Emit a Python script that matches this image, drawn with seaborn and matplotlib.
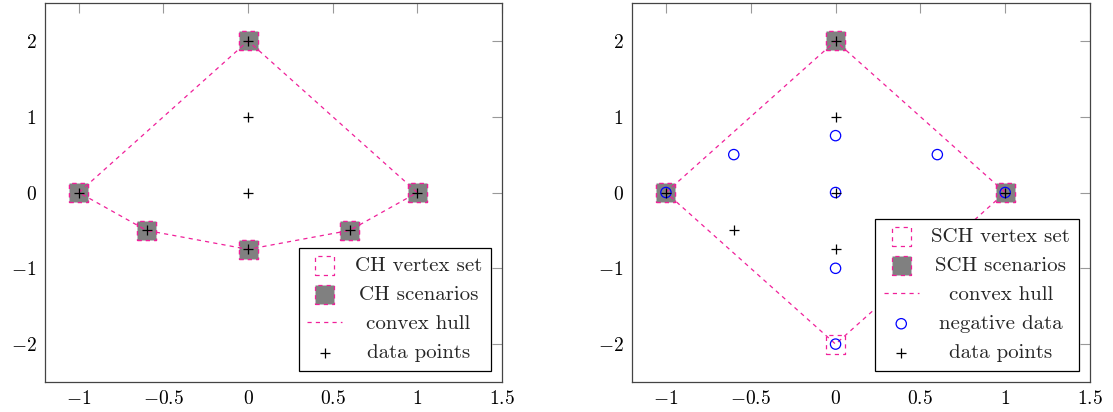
import matplotlib
matplotlib.use("Agg")
import matplotlib.pyplot as plt
import seaborn as sns
import pandas as pd
from matplotlib.transforms import Bbox

# ---------------- data: left panel (CH) ----------------
ch_vertex_x = [-1, -0.6, 0, 0.6, 1, 0]
ch_vertex_y = [0, -0.5, -0.75, -0.5, 0, 2]
ch_scen_x = [-1, -0.6, 0, 0.6, 1, 0]
ch_scen_y = [0, -0.5, -0.75, -0.5, 0, 2]
ch_hull_x = [-1, 0, 1, 0.6, 0, -0.6, -1]
ch_hull_y = [0, 2, 0, -0.5, -0.75, -0.5, 0]
ch_data_x = [-1, -0.6, 0, 0.6, 1, 0, 0, 0]
ch_data_y = [0, -0.5, -0.75, -0.5, 0, 2, 1, 0]

# ---------------- data: right panel (SCH) ----------------
sch_vertex_x = [-1, 0, 1, 0]
sch_vertex_y = [0, 2, 0, -2]
sch_scen_x = [-1, 0, 1]
sch_scen_y = [0, 2, 0]
sch_hull_x = [-1, 0, 1, 0, -1]
sch_hull_y = [0, 2, 0, -2, 0]
neg_x = [-1, -0.6, 0, 0, 0.6, 1, 0, 0]
neg_y = [0, 0.5, 0.75, 0, 0.5, 0, -1, -2]
sch_data_x = [0, 0, -1, 0, 1, -0.6, 0]
sch_data_y = [2, 1, 0, 0, 0, -0.5, -0.75]

xticks = [-1, -0.5, 0, 0.5, 1, 1.5]
xticklabels = ["$-1$", "$-0.5$", "$0$", "$0.5$", "$1$", "$1.5$"]
yticks = [-2, -1, 0, 1, 2]
yticklabels = ["$-2$", "$-1$", "$0$", "$1$", "$2$"]

left_labels = ["CH vertex set", "CH scenarios", "convex hull", "data points"]
right_labels = ["SCH vertex set", "SCH scenarios", "convex hull",
                "negative data", "data points"]

PINK = "#f0209a"
GRAY = "#808080"
BLUE = "#0000ff"
DASH = (0, (3, 3))
FS = 14
LFS = 15

sns.set_theme(style="white")
plt.rcParams["mathtext.fontset"] = "cm"
plt.rcParams["lines.scale_dashes"] = False
plt.rcParams["font.family"] = ["cmr10", "DejaVu Serif"]
plt.rcParams["axes.unicode_minus"] = False

fig = plt.figure(figsize=(11.13, 4.12), dpi=100)
W, H = 1113, 412
ax1 = fig.add_axes([45 / W, (H - 382) / H, (502 - 45) / W, (382 - 3) / H])
ax2 = fig.add_axes([632 / W, (H - 382) / H, (1090 - 632) / W, (382 - 3) / H])

SQ = 190


def style_axes(ax):
    ax.set_xlim(-1.2, 1.5)
    ax.set_ylim(-2.5, 2.5)
    ax.set_xticks(xticks)
    ax.set_xticklabels(xticklabels)
    ax.set_yticks(yticks)
    ax.set_yticklabels(yticklabels)
    ax.set_xlabel("")
    ax.set_ylabel("")
    ax.tick_params(direction="in", length=7, width=0.8, color="#999999",
                   top=True, right=True, labelsize=FS, pad=6,
                   labelcolor="black")
    for s in ax.spines.values():
        s.set_color("#444444")
        s.set_linewidth(0.9)
    ax.grid(False)


def center_legend_text(leg):
    tas = []
    for col in leg._legend_handle_box.get_children():
        for item in col.get_children():
            ch = item.get_children()
            tas.append(ch[1])
    for ta in tas:
        ta._text.set_ha("center")
        ta._orig_get_bbox = ta.get_bbox

    def make(ta):
        def gb(renderer):
            bb = ta._orig_get_bbox(renderer)
            Wd = max(o._orig_get_bbox(renderer).width for o in tas)
            return Bbox.from_bounds(-Wd / 2, bb.y0, Wd, bb.height)
        return gb

    for ta in tas:
        ta.get_bbox = make(ta)


def make_legend(ax, labels):
    h, l = ax.get_legend_handles_labels()
    leg = ax.legend(h, labels, loc="lower right", bbox_to_anchor=(1, 0),
                    borderaxespad=0.55, fancybox=False, edgecolor="black",
                    framealpha=1, handlelength=1.7, handletextpad=0.6,
                    labelspacing=0.5, borderpad=0.4, scatterpoints=1,
                    prop={"family": "cmr10", "size": LFS})
    leg.get_frame().set_linewidth(0.9)
    center_legend_text(leg)


# ---------------- left panel ----------------
sns.scatterplot(x=ch_vertex_x, y=ch_vertex_y, ax=ax1, marker="s", s=SQ,
                facecolor="none", edgecolor=PINK, linewidth=0.9,
                linestyle=DASH, label=left_labels[0], zorder=2)
sns.scatterplot(x=ch_scen_x, y=ch_scen_y, ax=ax1, marker="s", s=SQ,
                facecolor=GRAY, edgecolor=PINK, linewidth=0.9,
                linestyle=DASH, label=left_labels[1], zorder=3)
sns.lineplot(x=ch_hull_x, y=ch_hull_y, ax=ax1, sort=False, estimator=None,
             color=PINK, linewidth=0.9, linestyle=DASH,
             label=left_labels[2], zorder=4)
sns.scatterplot(x=ch_data_x, y=ch_data_y, ax=ax1, marker="+", s=60,
                color="black", linewidth=0.9, label=left_labels[3], zorder=5)
style_axes(ax1)
make_legend(ax1, left_labels)

# ---------------- right panel ----------------
sns.scatterplot(x=sch_vertex_x, y=sch_vertex_y, ax=ax2, marker="s", s=SQ,
                facecolor="none", edgecolor=PINK, linewidth=0.9,
                linestyle=DASH, label=right_labels[0], zorder=2)
sns.scatterplot(x=sch_scen_x, y=sch_scen_y, ax=ax2, marker="s", s=SQ,
                facecolor=GRAY, edgecolor=PINK, linewidth=0.9,
                linestyle=DASH, label=right_labels[1], zorder=3)
sns.lineplot(x=sch_hull_x, y=sch_hull_y, ax=ax2, sort=False, estimator=None,
             color=PINK, linewidth=0.9, linestyle=DASH,
             label=right_labels[2], zorder=4)
sns.scatterplot(x=neg_x, y=neg_y, ax=ax2, marker="o", s=55,
                facecolor="none", edgecolor=BLUE, linewidth=0.9,
                label=right_labels[3], zorder=5)
sns.scatterplot(x=sch_data_x, y=sch_data_y, ax=ax2, marker="+", s=60,
                color="black", linewidth=0.9, label=right_labels[4], zorder=6)
style_axes(ax2)
make_legend(ax2, right_labels)

fig.savefig("out.png", dpi=100)
